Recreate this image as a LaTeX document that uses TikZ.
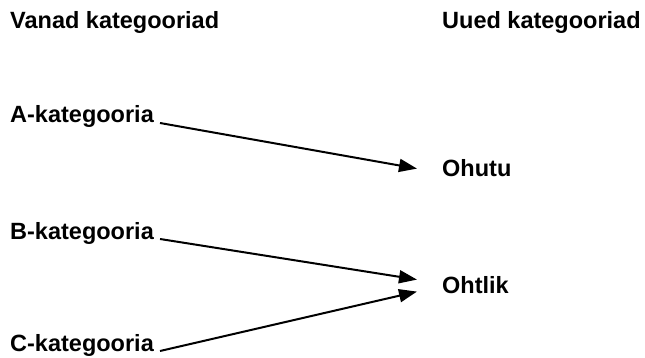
\documentclass[tikz,border=0pt]{standalone}
\usepackage{fontspec}
\setmainfont{Liberation Sans}
\usetikzlibrary{arrows.meta}
\tikzset{
  lbl/.style={anchor=base west, inner sep=0pt, font=\fontsize{23.5}{28}\selectfont\bfseries},
  conn/.style={line width=2pt, -{Triangle[length=18pt,width=13pt]}}
}
\begin{document}
\begin{tikzpicture}[x=1pt,y=-1pt]
\path[use as bounding box] (0,0) rectangle (645,358);
\node[lbl] (vanad) at (10,29) {Vanad kategooriad};
\node[lbl] (uued) at (442,29) {Uued kategooriad};
\node[lbl] (A) at (10,123) {A-kategooria};
\node[lbl] (B) at (10,239) {B-kategooria};
\node[lbl] (C) at (10,351) {C-kategooria};
\node[lbl] (ohutu) at (442,177) {Ohutu};
\node[lbl] (ohtlik) at (442,293) {Ohtlik};
\draw[conn] ([xshift=6pt]A.base east) -- ([xshift=-25pt]ohutu.west);
\draw[conn] ([xshift=6pt]B.base east) -- ([xshift=-25pt,yshift=5pt]ohtlik.west);
\draw[conn] ([xshift=6pt]C.base east) -- ([xshift=-25pt,yshift=-7pt]ohtlik.west);
\end{tikzpicture}
\end{document}
